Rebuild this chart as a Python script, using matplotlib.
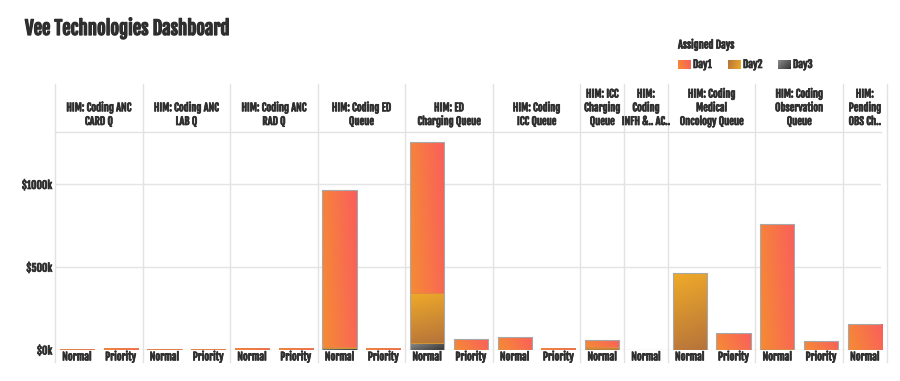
import matplotlib
matplotlib.use("Agg")
import matplotlib.pyplot as plt
import matplotlib.patheffects as pe
import numpy as np
from matplotlib.patches import Rectangle

plt.rcParams['font.family'] = ['Fjalla One', 'Oswald', 'Barlow Condensed', 'DejaVu Sans']
plt.rcParams['font.weight'] = 'bold'

# Data (values in $k)
queues = ["HIM: Coding ANC\nCARD Q", "HIM: Coding ANC\nLAB Q", "HIM: Coding ANC\nRAD Q",
          "HIM: Coding ED\nQueue", "HIM: ED\nCharging Queue", "HIM: Coding\nICC Queue",
          "HIM: ICC\nCharging\nQueue", "HIM:\nCoding\nINFH &.. AC..", "HIM: Coding\nMedical\nOncology Queue",
          "HIM: Coding\nObservation\nQueue", "HIM:\nPending\nOBS Ch.."]
queue_slots = [2, 2, 2, 2, 2, 2, 1, 1, 2, 2, 1]
priority = ["Normal", "Priority", "Normal", "Priority", "Normal", "Priority", "Normal", "Priority",
            "Normal", "Priority", "Normal", "Priority", "Normal", "Normal", "Normal", "Priority",
            "Normal", "Priority", "Normal"]
day1 = [8, 15, 8, 8, 15, 15, 950, 15, 910, 66, 79, 10, 38, 0, 0, 103, 756, 56, 156]
day2 = [0, 0, 0, 0, 0, 0, 5, 0, 305, 0, 0, 0, 20, 0, 465, 0, 6, 0, 0]
day3 = [0, 0, 0, 0, 0, 0, 12, 0, 40, 0, 0, 0, 0, 0, 0, 0, 0, 0, 0]
days = ["Day1", "Day2", "Day3"]

W, H = 900, 381
fig = plt.figure(figsize=(9, 3.81), dpi=100)

def fx(px):
    return px / W

def fy(py):
    return 1 - py / H

# gradient maps (row 0 = bottom)
def grad_day1(n=64):
    X, Y = np.meshgrid(np.linspace(0, 1, n), np.linspace(0, 1, n))
    t = np.clip(0.8 * X + 0.2 * Y, 0, 1)
    c0 = np.array([0.96, 0.55, 0.20])
    c1 = np.array([0.98, 0.37, 0.36])
    return c0 + (c1 - c0) * t[..., None]

def grad_day2(n=64):
    X, Y = np.meshgrid(np.linspace(0, 1, n), np.linspace(0, 1, n))
    t = np.clip(0.85 * (1 - Y) + 0.15 * X, 0, 1)
    c0 = np.array([0.94, 0.67, 0.16])
    c1 = np.array([0.71, 0.45, 0.23])
    return c0 + (c1 - c0) * t[..., None]

def grad_day3(n=64):
    X, Y = np.meshgrid(np.linspace(0, 1, n), np.linspace(0, 1, n))
    t = np.clip(0.6 * X + 0.4 * (1 - Y), 0, 1)
    c0 = np.array([0.55, 0.55, 0.55])
    c1 = np.array([0.20, 0.20, 0.20])
    return c0 + (c1 - c0) * t[..., None]

grads = [grad_day1(), grad_day2(), grad_day3()]
edges = ["#e0824a", "#e8a530", "#444444"]
txt_col = "#2e2e2e"
bold = [pe.withStroke(linewidth=0.5, foreground=txt_col)]

# main axes
ax = fig.add_axes([fx(55), fy(350), fx(881) - fx(55), fy(132) - fy(350)])
n = len(priority)
xpos = np.arange(n)
xmin, xmax = -0.5, 18.37
ymax = 1317
bw = 0.78

ax.set_xlim(xmin, xmax)
ax.set_ylim(0, ymax)
for s in ax.spines.values():
    s.set_visible(False)
ax.set_yticks([0, 500, 1000])
ax.set_yticklabels(["$0k", "$500k", "$1000k"], fontsize=7.5, color=txt_col, fontweight="bold")
ax.set_xticks(xpos)
ax.set_xticklabels(priority, fontsize=7.5, color=txt_col, fontweight="bold")
for lab in ax.get_xticklabels() + ax.get_yticklabels():
    lab.set_path_effects(bold)
ax.tick_params(length=0, pad=2)
ax.tick_params(axis="x", pad=1)
ax.yaxis.grid(True, color="#e4e4e4", lw=1)
ax.set_axisbelow(True)

# stacked bars: Day3 bottom, Day2, Day1 top
for i in range(n):
    bottom = 0
    for vals, g, ec in [(day3, grads[2], edges[2]), (day2, grads[1], edges[1]), (day1, grads[0], edges[0])]:
        v = vals[i]
        if v <= 0:
            continue
        x0 = xpos[i] - bw / 2
        im = ax.imshow(g, extent=(x0, x0 + bw, bottom, bottom + v), origin="lower",
                       aspect="auto", interpolation="bilinear", zorder=2)
        rect = Rectangle((x0, bottom), bw, v, facecolor="none", edgecolor=ec, lw=0.6, zorder=3)
        ax.add_patch(rect)
        im.set_clip_path(rect)
        bottom += v
    tot = day1[i] + day2[i] + day3[i]
    if tot > 30:
        ax.add_patch(Rectangle((xpos[i] - bw / 2, 0), bw, tot, facecolor="none",
                               edgecolor="#a8a8a8", lw=0.8, zorder=4))

ax.set_xlim(xmin, xmax)
ax.set_ylim(0, ymax)

# panel separators
bounds = np.concatenate([[0], np.cumsum(queue_slots)]) - 0.5
for b in bounds:
    ax.axvline(b, ymin=-0.055, ymax=(350 - 84) / 218, color="#e2e2e2", lw=1, clip_on=False, zorder=0)
ax.axhline(ymax, xmin=0, xmax=1, color="#e2e2e2", lw=1, clip_on=False)

# header texts
for k, q in enumerate(queues):
    cx = (bounds[k] + bounds[k + 1]) / 2
    ax.text(cx, ymax + 5 / 218 * ymax, q, ha="center", va="bottom", fontsize=7.5,
            color=txt_col, fontweight="bold", linespacing=1.3, path_effects=bold)

# title
fig.text(fx(25), fy(28), "Vee Technologies Dashboard", fontsize=13.5, fontweight="bold",
         color=txt_col, va="center", ha="left",
         path_effects=[pe.withStroke(linewidth=0.9, foreground=txt_col)])

# legend
fig.text(fx(678), fy(45), "Assigned Days", fontsize=7.5, fontweight="bold", color=txt_col,
         va="center", ha="left", path_effects=bold)
sw_x = [678, 728, 778]
for k, d in enumerate(days):
    lax = fig.add_axes([fx(sw_x[k]), fy(69), fx(13), 9 / H])
    lax.imshow(np.transpose(grads[k], (1, 0, 2)) if k == 1 else grads[k], origin="lower",
               aspect="auto", extent=(0, 1, 0, 1))
    lax.axis("off")
    fig.text(fx(sw_x[k] + 15), fy(64.5), d, fontsize=7.5, fontweight="bold", color=txt_col,
             va="center", ha="left", path_effects=bold)

fig.savefig("out.png", dpi=100)
